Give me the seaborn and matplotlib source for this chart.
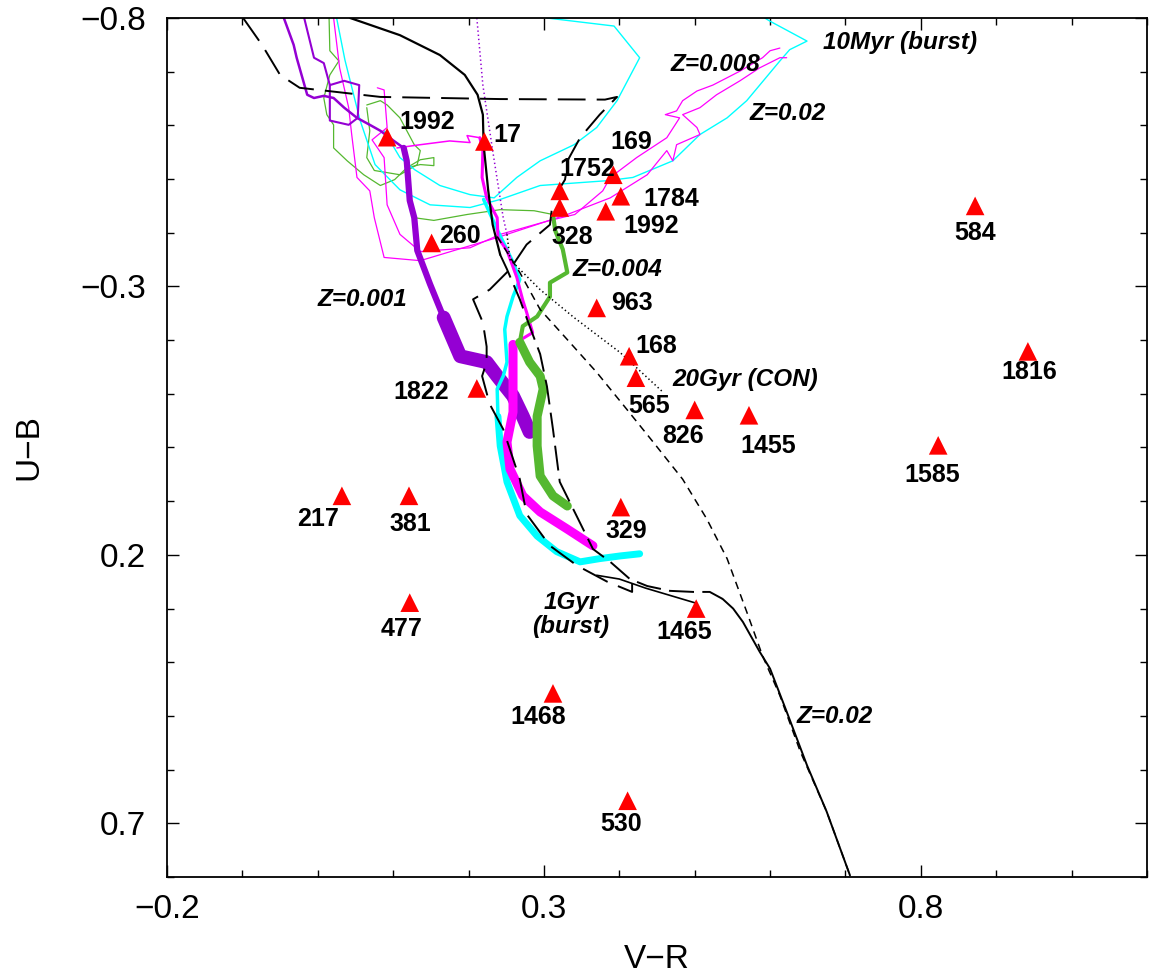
import matplotlib
matplotlib.use("Agg")
import matplotlib.pyplot as plt
from matplotlib.ticker import FixedLocator
import numpy as np
import seaborn as sns

# ---------------- data ----------------
cluster_names = ["1992", "17", "1752", "328", "169", "1784", "1992", "584", "260", "963",
                 "168", "565", "1816", "1822", "826", "1455", "1585", "217", "381", "329",
                 "477", "1465", "1468", "530"]
cluster_vr = [0.092, 0.221, 0.321, 0.321, 0.392, 0.402, 0.382, 0.872, 0.151, 0.370,
              0.413, 0.422, 0.942, 0.211, 0.500, 0.572, 0.823, 0.032, 0.121, 0.402,
              0.122, 0.502, 0.312, 0.411]
cluster_ub = [-0.578, -0.570, -0.478, -0.447, -0.508, -0.468, -0.440, -0.450, -0.381, -0.260,
              -0.170, -0.130, -0.179, -0.110, -0.070, -0.060, -0.004, 0.090, 0.090, 0.111,
              0.289, 0.300, 0.458, 0.658]

# model tracks (V-R, U-B)
purple_upper_vr = [-0.045, -0.032, -0.028, -0.014, -0.005, 0.008, 0.021, 0.035, 0.052, 0.069, 0.083, 0.101, 0.114]
purple_upper_ub = [-0.800, -0.750, -0.726, -0.657, -0.651, -0.655, -0.651, -0.633, -0.614, -0.601, -0.590, -0.571, -0.558]
purple_loop_vr = [-0.018, -0.005, 0.008, 0.016, 0.016, 0.041, 0.053, 0.055, 0.035, 0.016]
purple_loop_ub = [-0.800, -0.726, -0.716, -0.675, -0.609, -0.601, -0.614, -0.675, -0.683, -0.675]
purple_mid_vr = [0.114, 0.118, 0.122, 0.128, 0.132, 0.149, 0.167]
purple_mid_ub = [-0.558, -0.534, -0.460, -0.428, -0.367, -0.304, -0.242]
purple_end_vr = [0.167, 0.189, 0.224, 0.238, 0.259, 0.272, 0.281]
purple_end_ub = [-0.242, -0.170, -0.159, -0.133, -0.096, -0.058, -0.029]
purple_dot_vr = [0.211, 0.219, 0.232, 0.246, 0.251]
purple_dot_ub = [-0.800, -0.675, -0.553, -0.428, -0.397]

black_dot_vr = [0.251, 0.255, 0.295, 0.340, 0.401, 0.458]
black_dot_ub = [-0.397, -0.350, -0.294, -0.242, -0.177, -0.103]

con_vr = [0.238, 0.268, 0.295, 0.331, 0.370, 0.410, 0.445, 0.484, 0.516, 0.543, 0.569, 0.590, 0.613, 0.640, 0.675, 0.706]
con_ub = [-0.393, -0.326, -0.257, -0.201, -0.140, -0.071, -0.010, 0.059, 0.133, 0.207, 0.306, 0.388, 0.462, 0.566, 0.678, 0.797]

black_top_vr = [0.043, 0.109, 0.162, 0.195, 0.212, 0.219, 0.220, 0.226, 0.232, 0.242]
black_top_ub = [-0.800, -0.768, -0.731, -0.694, -0.657, -0.620, -0.564, -0.480, -0.415, -0.359]
black_mid_vr = [0.242, 0.251, 0.268, 0.281, 0.295, 0.304, 0.312, 0.321, 0.352, 0.365, 0.388, 0.414, 0.437, 0.467, 0.498, 0.520, 0.537]
black_mid_ub = [-0.359, -0.332, -0.276, -0.226, -0.174, -0.114, -0.034, 0.064, 0.152, 0.189, 0.213, 0.245, 0.258, 0.267, 0.269, 0.269, 0.282]
black_low_vr = [0.537, 0.551, 0.564, 0.586, 0.600, 0.622, 0.649, 0.675, 0.706]
black_low_ub = [0.282, 0.300, 0.325, 0.380, 0.412, 0.492, 0.592, 0.678, 0.797]
black_ld_vr = [-0.099, -0.074, -0.050, -0.024, 0.083, 0.242, 0.381, 0.397, 0.374, 0.348, 0.332, 0.328, 0.312, 0.308,
               0.277, 0.255, 0.228, 0.206, 0.219, 0.224, 0.224, 0.218, 0.228, 0.246, 0.268, 0.277, 0.308, 0.344,
               0.384, 0.417, 0.417]
black_ld_ub = [-0.800, -0.750, -0.694, -0.670, -0.653, -0.649, -0.648, -0.653, -0.620, -0.577, -0.536, -0.499, -0.462,
               -0.415, -0.378, -0.332, -0.294, -0.276, -0.233, -0.188, -0.159, -0.133, -0.081, -0.034, 0.059, 0.124,
               0.183, 0.220, 0.250, 0.269, 0.254]
black_spur_vr = [0.370, 0.400, 0.435, 0.502]
black_spur_ub = [0.238, 0.245, 0.262, 0.290]

cyan_a_vr = [0.025, 0.036, 0.056, 0.076, 0.109, 0.149, 0.202, 0.242, 0.295, 0.384, 0.418, 0.471, 0.507, 0.543, 0.569,
             0.613, 0.626, 0.649, 0.600, 0.593]
cyan_a_ub = [-0.800, -0.722, -0.610, -0.527, -0.480, -0.452, -0.447, -0.462, -0.488, -0.497, -0.503, -0.534, -0.583,
             -0.614, -0.646, -0.720, -0.741, -0.757, -0.794, -0.800]
cyan_b_vr = [0.304, 0.393, 0.427, 0.397, 0.370, 0.340, 0.295, 0.264, 0.234, 0.202, 0.162, 0.129, 0.109, 0.088]
cyan_b_ub = [-0.800, -0.785, -0.726, -0.646, -0.596, -0.564, -0.534, -0.503, -0.465, -0.471, -0.488, -0.517, -0.540, -0.590]
cyan_mid_vr = [0.220, 0.238, 0.259, 0.268, 0.259, 0.251, 0.248, 0.251, 0.246, 0.238, 0.239]
cyan_mid_ub = [-0.462, -0.406, -0.345, -0.313, -0.281, -0.244, -0.220, -0.159, -0.133, -0.109, -0.058]
cyan_end_vr = [0.239, 0.242, 0.251, 0.268, 0.291, 0.317, 0.348, 0.374, 0.401, 0.427]
cyan_end_ub = [-0.058, -0.003, 0.064, 0.127, 0.165, 0.194, 0.213, 0.207, 0.202, 0.198]

mag_h_vr = [0.105, 0.136, 0.175, 0.202, 0.198, 0.215]
mag_h_ub = [-0.558, -0.564, -0.571, -0.568, -0.581, -0.577]
mag_a_vr = [0.215, 0.219, 0.218, 0.224, 0.238, 0.239, 0.251, 0.264, 0.272, 0.277, 0.285, 0.259]
mag_a_ub = [-0.577, -0.553, -0.503, -0.465, -0.428, -0.391, -0.367, -0.317, -0.274, -0.252, -0.214, -0.192]
mag_end_vr = [0.259, 0.259, 0.259, 0.251, 0.255, 0.272, 0.295, 0.331, 0.365]
mag_end_ub = [-0.192, -0.096, -0.066, -0.010, 0.040, 0.090, 0.120, 0.152, 0.183]
mag_b_vr = [0.021, 0.029, 0.041, 0.045, 0.052, 0.069, 0.075, 0.088, 0.136, 0.238, 0.331, 0.388, 0.437, 0.463, 0.471, 0.476,
            0.507, 0.503, 0.484, 0.507, 0.529, 0.560, 0.586, 0.613, 0.622]
mag_b_ub = [-0.800, -0.707, -0.633, -0.583, -0.503, -0.478, -0.428, -0.354, -0.348, -0.391, -0.434, -0.465, -0.508, -0.553,
            -0.534, -0.564, -0.583, -0.596, -0.620, -0.633, -0.657, -0.683, -0.707, -0.726, -0.726]
mag_c_vr = [0.079, 0.088, 0.092, 0.072, 0.088, 0.092, 0.109, 0.136, 0.202, 0.242, 0.308, 0.341, 0.378, 0.388, 0.423, 0.463,
            0.480, 0.461, 0.476, 0.484, 0.503, 0.524, 0.560, 0.590, 0.600, 0.613]
mag_c_ub = [-0.670, -0.666, -0.596, -0.573, -0.540, -0.452, -0.397, -0.365, -0.372, -0.397, -0.423, -0.434, -0.478, -0.503,
            -0.540, -0.577, -0.614, -0.620, -0.627, -0.646, -0.664, -0.675, -0.701, -0.726, -0.739, -0.744]

green_mid_vr = [0.312, 0.315, 0.325, 0.331, 0.308, 0.308, 0.291, 0.272, 0.268]
green_mid_ub = [-0.434, -0.404, -0.369, -0.326, -0.307, -0.281, -0.244, -0.226, -0.196]
green_end_vr = [0.268, 0.281, 0.295, 0.299, 0.291, 0.291, 0.295, 0.312, 0.331]
green_end_ub = [-0.196, -0.159, -0.133, -0.109, -0.058, -0.003, 0.053, 0.090, 0.109]
green_h_vr = [0.128, 0.154, 0.198, 0.242, 0.287, 0.312]
green_h_ub = [-0.428, -0.423, -0.434, -0.443, -0.441, -0.434]
green_a_vr = [0.015, 0.016, 0.028, 0.016, 0.008, 0.012, 0.021, 0.021, 0.039, 0.061, 0.083, 0.102, 0.118, 0.136, 0.154,
              0.154, 0.136, 0.118]
green_a_ub = [-0.800, -0.739, -0.720, -0.694, -0.651, -0.620, -0.601, -0.558, -0.534, -0.508, -0.488, -0.499, -0.521,
              -0.536, -0.540, -0.525, -0.527, -0.521]
green_b_vr = [0.065, 0.083, 0.092, 0.109, 0.128, 0.136, 0.132, 0.109, 0.075, 0.065, 0.069, 0.065]
green_b_ub = [-0.638, -0.646, -0.638, -0.614, -0.564, -0.553, -0.527, -0.508, -0.516, -0.540, -0.590, -0.633]

x_major = [-0.2, 0.3, 0.8]
x_major_labels = ["\u22120.2", "0.3", "0.8"]
y_major = [-0.8, -0.3, 0.2, 0.7]
y_major_labels = ["\u22120.8", "\u22120.3", "0.2", "0.7"]

annot_texts = ["10Myr (burst)", "Z=0.008", "Z=0.02", "Z=0.004", "Z=0.001", "20Gyr (CON)", "1Gyr\n(burst)", "Z=0.02"]

# ---------------- layout / style ----------------
label_offsets = [(40, 15), (23, 6), (27, 22), (13, -29), (18, 33), (50, -3), (45, -15), (0, -27), (28, 7), (35, 5),
                 (27, 10), (13, -28), (1, -21), (-56, -4), (-12, -26), (19, -31), (-6, -30), (-24, -23), (1, -28),
                 (5, -24), (-8, -26), (-12, -23), (-15, -24), (-6, -23)]
annot_pos = [(0.773, -0.755), (0.528, -0.713), (0.623, -0.622), (0.398, -0.332), (0.059, -0.276),
             (0.567, -0.127), (0.336, 0.311), (0.686, 0.501)]

PURPLE = "#9400D3"
MAGENTA = "#FF00FF"
CYAN = "#00FFFF"
GREEN = "#55B830"

sns.set_theme(style="ticks")
plt.rcParams["font.family"] = ["Liberation Sans", "DejaVu Sans"]
plt.rcParams["lines.scale_dashes"] = False
plt.rcParams["lines.solid_capstyle"] = "round"

fig = plt.figure(figsize=(11.5, 9.74), dpi=100)
ax = fig.add_axes([0.14522, 0.09959, 0.85217, 0.88193])


def track(vr, ub, **kw):
    sns.lineplot(x=vr, y=ub, sort=False, estimator=None, ax=ax, legend=False, **kw)


# thin coloured tracks
track(green_a_vr, green_a_ub, color=GREEN, lw=0.9)
track(green_b_vr, green_b_ub, color=GREEN, lw=0.9)
track(green_h_vr, green_h_ub, color=GREEN, lw=0.9)
track(cyan_a_vr, cyan_a_ub, color=CYAN, lw=1.0)
track(cyan_b_vr, cyan_b_ub, color=CYAN, lw=1.0)
track(mag_b_vr, mag_b_ub, color=MAGENTA, lw=0.9)
track(mag_c_vr, mag_c_ub, color=MAGENTA, lw=0.9)
track(mag_h_vr, mag_h_ub, color=MAGENTA, lw=1.1)
track(purple_loop_vr, purple_loop_ub, color=PURPLE, lw=1.5)
track(purple_upper_vr, purple_upper_ub, color=PURPLE, lw=1.8)
track(purple_dot_vr, purple_dot_ub, color=PURPLE, lw=1.1, linestyle=(0, (1, 2)))

# thick coloured tracks
track(purple_mid_vr, purple_mid_ub, color=PURPLE, lw=4.5)
track(purple_end_vr, purple_end_ub, color=PURPLE, lw=10)
track(cyan_mid_vr, cyan_mid_ub, color=CYAN, lw=2.5)
track(cyan_end_vr, cyan_end_ub, color=CYAN, lw=5)
track(mag_a_vr, mag_a_ub, color=MAGENTA, lw=2.2)
track(mag_end_vr, mag_end_ub, color=MAGENTA, lw=6.5)
track(green_mid_vr, green_mid_ub, color=GREEN, lw=3.0)
track(green_end_vr, green_end_ub, color=GREEN, lw=6.5)

# black model lines
track(black_top_vr, black_top_ub, color="black", lw=1.6)
track(black_mid_vr, black_mid_ub, color="black", lw=1.4, linestyle=(0, (18, 6)))
track(black_low_vr, black_low_ub, color="black", lw=1.4)
track(black_ld_vr, black_ld_ub, color="black", lw=1.4, linestyle=(0, (20, 8)))
track(black_spur_vr, black_spur_ub, color="black", lw=1.2)
track(con_vr, con_ub, color="black", lw=1.1, linestyle=(0, (5.5, 4)))
track(black_dot_vr, black_dot_ub, color="black", lw=1.1, linestyle=(0, (1, 2)))

# clusters
sns.scatterplot(x=cluster_vr, y=cluster_ub, marker="^", s=180, color="#FF0000",
                edgecolor="none", linewidth=0, zorder=6, ax=ax, legend=False)
for name, vx, uy, off in zip(cluster_names, cluster_vr, cluster_ub, label_offsets):
    ax.annotate(name, (vx, uy), xytext=off, textcoords="offset pixels", ha="center", va="center",
                fontsize=18, fontweight="bold", color="black", zorder=7)

for txt, pos in zip(annot_texts, annot_pos):
    ax.text(pos[0], pos[1], txt, ha="center", va="center", fontsize=17.5, fontweight="bold",
            fontstyle="italic", color="black", zorder=7, linespacing=1.1)

# axes
ax.set_xlim(-0.2, 1.1)
ax.set_ylim(0.8, -0.8)
ax.xaxis.set_major_locator(FixedLocator(x_major))
ax.set_xticklabels(x_major_labels)
ax.yaxis.set_major_locator(FixedLocator(y_major))
ax.set_yticklabels(y_major_labels)
ax.xaxis.set_minor_locator(FixedLocator(np.round(np.arange(-0.2, 1.101, 0.1), 2)))
ax.yaxis.set_minor_locator(FixedLocator(np.round(np.arange(-0.8, 0.801, 0.1), 2)))
ax.tick_params(which="both", direction="in", top=True, right=True, width=1.0, color="black")
ax.tick_params(which="major", length=8.5, labelsize=24, labelcolor="black")
ax.tick_params(axis="x", which="major", pad=12)
ax.tick_params(axis="y", which="major", pad=15)
ax.tick_params(which="minor", length=5)
for sp in ax.spines.values():
    sp.set_color("black")
    sp.set_linewidth(1.3)
ax.set_xlabel("V\u2212R", fontsize=24, labelpad=14, color="black")
ax.set_ylabel("U\u2212B", fontsize=24, labelpad=26, color="black")
ax.grid(False)
ax.set_facecolor("white")

fig.savefig("out.png", dpi=100, facecolor="white")
